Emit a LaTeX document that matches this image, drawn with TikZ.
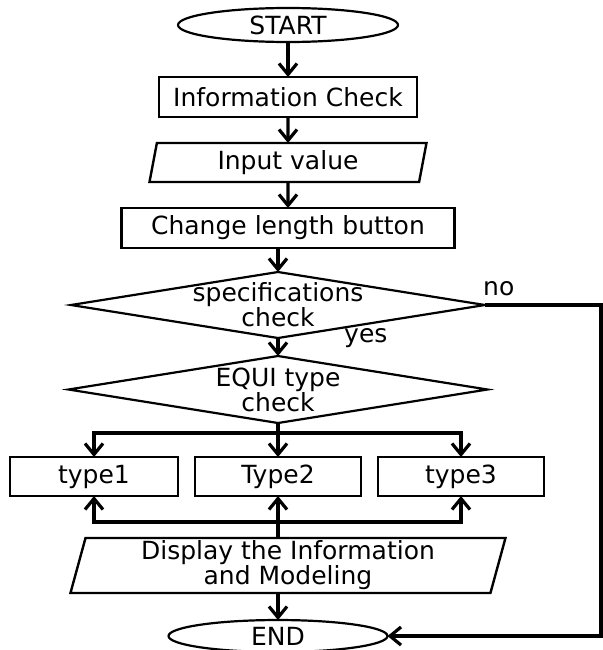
\documentclass[tikz,border=0pt]{standalone}
\usepackage{fontspec}
\setmainfont{DejaVu Sans}
\usetikzlibrary{shapes.geometric, arrows.meta, positioning, calc}

\begin{document}
\begin{tikzpicture} [
    font=\fontsize{25bp}{25bp}\selectfont,
    block/.style={rectangle, draw, line width=2.4bp, minimum height=40bp, inner sep=0pt, outer sep=0pt},
    io_block/.style={trapezium, trapezium left angle=73, trapezium right angle=107, trapezium stretches body, draw, line width=2.4bp, inner sep=0pt, outer sep=0pt, align=center},
    decision/.style={diamond, draw, line width=2.2bp, inner sep=0pt, outer sep=0pt},
    terminal/.style={ellipse, draw, line width=2.2bp, inner sep=0pt, outer sep=0pt},
    line/.style={draw, -{Straight Barb[length=11bp, width=18bp]}, line width=3.2bp},
    anno/.style={inner sep=0pt}
]
    \useasboundingbox (0,0) rectangle (603bp,-650bp);

    % Nodes
    \node[terminal, minimum width=220bp, minimum height=34bp] (start) at (288bp,-25bp) {START};
    \node[block, below=35bp of start, minimum width=258bp] (info) {Information Check};
    \node[io_block, below=26bp of info, minimum width=277bp, minimum height=39bp] (input) {Input value};
    \node[block, below=26bp of input, minimum width=333bp] (change) {Change length button};

    \node[decision, below=24bp of change, xshift=-10bp, minimum width=414bp, minimum height=66bp,
        label={[align=center]center:specifications\\check}] (specs) {};
    \node[decision, below=18bp of specs, minimum width=419bp, minimum height=67bp,
        label={[align=center]center:EQUI type\\check}] (equi) {};
    \coordinate[below=10bp of equi.south] (fork);

    \node[block, below=34bp of equi, minimum width=166bp, minimum height=39bp] (type2) {Type2};
    \node[block, left=17bp of type2, minimum width=168bp, minimum height=39bp] (type1) {type1};
    \node[block, right=17bp of type2, minimum width=166bp, minimum height=39bp] (type3) {type3};
    \coordinate[below=26bp of type2.south] (join);

    \node[io_block, below=42bp of type2, xshift=10bp, minimum width=435bp, minimum height=55bp] (display) {Display the Information\\and Modeling};
    \node[terminal, below=27bp of display, xshift=-10bp, minimum width=219bp, minimum height=32bp] (end) {END};
    \coordinate[right=116bp of specs.east] (rim);

    % Labels
    \node[anno, anchor=south west] (no) at ([shift={(-2bp,9bp)}]specs.east) {no};
    \node[anno, anchor=base west] (yes) at ([shift={(66bp,-4bp)}]specs.south) {yes};

    % Arrows
    \path [line] (start) -- (info);
    \path [line] (info) -- (input);
    \path [line] (input) -- (change);
    \path [line] (specs.north |- change.south) -- (specs.north);
    \path [line] (specs) -- (equi);
    \draw [line width=3.2bp] (equi.south) -- (fork);
    \path [line] (fork) -- (type2);
    \path [line] (fork) -| (type1);
    \path [line] (fork) -| (type3);
    \path [line] (type2 |- display.north) -- (type2);
    \path [line] (join) -| (type1);
    \path [line] (join) -| (type3);
    \path [line] (end.north |- display.south) -- (end);
    \path [line] (specs.east) -- (rim) |- (end.east);

\end{tikzpicture}
\end{document}
